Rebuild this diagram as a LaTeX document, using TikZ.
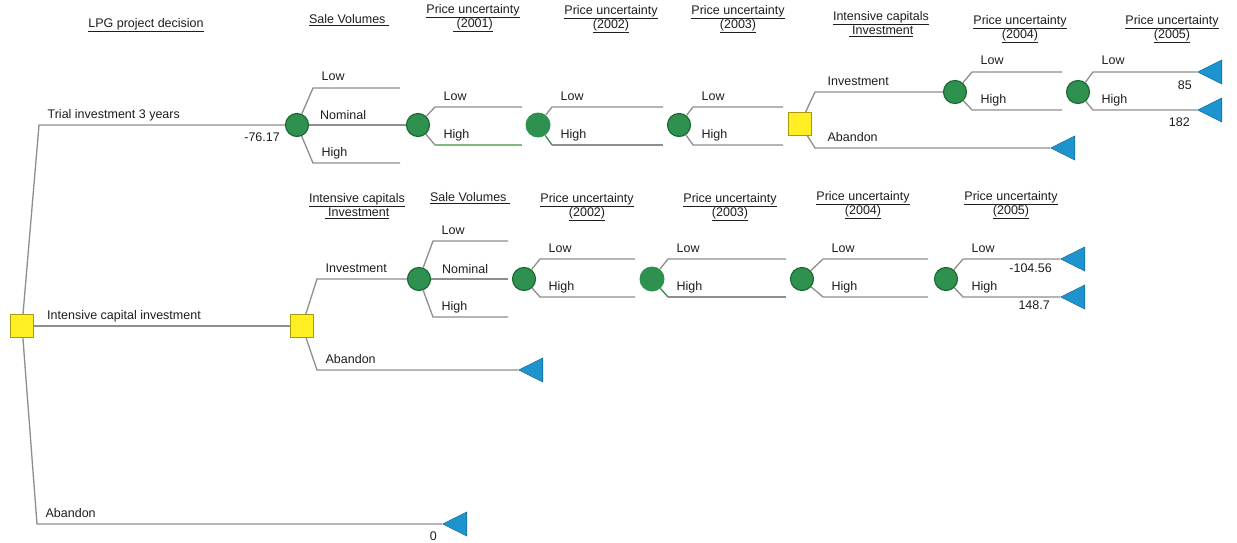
\documentclass[tikz,border=0pt]{standalone}
\usepackage{fontspec}
\setmainfont{Liberation Sans}
\usetikzlibrary{shapes.geometric}
\definecolor{chgreen}{HTML}{2E9150}
\definecolor{chedge}{HTML}{1E6A36}
\definecolor{hlgreen}{HTML}{7DBA7D}
\definecolor{dcyellow}{HTML}{FFEE22}
\definecolor{dcedge}{HTML}{A89A10}
\definecolor{endblue}{HTML}{1E94CF}
\definecolor{endedge}{HTML}{166F9E}
\definecolor{brgray}{HTML}{8E8E8E}
\definecolor{txtc}{HTML}{1E1E1E}
\newcommand{\treefont}{\fontsize{12.5}{14}\selectfont}
\tikzset{
  chance/.style={circle, fill=chgreen, draw=chedge, line width=1.2pt, minimum size=23pt, inner sep=0pt},
  flatchance/.style={circle, fill=chgreen, minimum size=25pt, inner sep=0pt},
  decision/.style={rectangle, fill=dcyellow, draw=dcedge, line width=0.8pt, minimum size=23pt, inner sep=0pt},
  payoff/.style={isosceles triangle, isosceles triangle stretches, shape border rotate=180,
    fill=endblue, draw=endedge, line width=0.6pt, minimum width=24pt, minimum height=24pt,
    inner sep=0pt, anchor=apex},
  branch/.style={draw=brgray, line width=1.3pt},
  lbl/.style={font=\treefont, text=txtc, anchor=base west, inner sep=0pt, xshift=8pt, yshift=7pt},
  val/.style={font=\treefont, text=txtc, anchor=base east, inner sep=0pt},
  hdr/.style={font=\treefont, text=txtc, align=center, inner sep=0pt}
}
\begin{document}
\begin{tikzpicture}[x=1pt,y=-1pt]
  \fill[white] (0,0) rectangle (1237,543);
  \useasboundingbox (0,0) rectangle (1237,543);

  % column headings
  \node[hdr] (hLPG) at (146,25) {\underline{LPG project decision}};
  \node[hdr] (hSV) at (349,20) {\underline{Sale Volumes\ }};
  \node[hdr] (hP1) at (473,18) {\underline{Price uncertainty}\\\underline{\ (2001)}};
  \node[hdr] (hP2) at (611,19) {\underline{Price uncertainty}\\\underline{(2002)}};
  \node[hdr] (hP3) at (738,19) {\underline{Price uncertainty}\\\underline{(2003)}};
  \node[hdr] (hIC) at (881,24) {\underline{Intensive capitals}\\\underline{\ Investment}};
  \node[hdr] (hP4) at (1020,29) {\underline{Price uncertainty}\\\underline{(2004)}};
  \node[hdr] (hP5) at (1172,29) {\underline{Price uncertainty}\\\underline{(2005)}};
  \node[hdr] (gIC) at (357,206) {\underline{Intensive capitals}\\\underline{\ Investment}};
  \node[hdr] (gSV) at (470,198) {\underline{Sale Volumes\ }};
  \node[hdr] (gP2) at (587,207) {\underline{Price uncertainty}\\\underline{(2002)}};
  \node[hdr] (gP3) at (730,207) {\underline{Price uncertainty}\\\underline{(2003)}};
  \node[hdr] (gP4) at (863,205) {\underline{Price uncertainty}\\\underline{(2004)}};
  \node[hdr] (gP5) at (1011,205) {\underline{Price uncertainty}\\\underline{(2005)}};

  % nodes
  \node[decision] (root) at (22,326) {};
  \node[chance] (c1) at (297,125) {};
  \node[chance] (c2) at (418,125) {};
  \node[flatchance] (c3) at (538,125) {};
  \node[chance] (c4) at (679,125) {};
  \node[decision] (d1) at (800,124) {};
  \node[chance] (c5) at (955,92) {};
  \node[chance] (c6) at (1078,92) {};
  \node[payoff] (t1) at (1197,72) {};
  \node[payoff] (t2) at (1197,110) {};
  \node[payoff] (t3) at (1050,148) {};
  \node[decision] (d2) at (302,326) {};
  \node[chance] (c7) at (419,279) {};
  \node[chance] (c8) at (524,279) {};
  \node[flatchance] (c9) at (652,279) {};
  \node[chance] (c10) at (802,279) {};
  \node[chance] (c11) at (946,279) {};
  \node[payoff] (t4) at (1060,259) {};
  \node[payoff] (t5) at (1060,297) {};
  \node[payoff] (t6) at (518,370) {};
  \node[payoff] (t7) at (442,524) {};

  % open branch ends
  \coordinate (e1) at (400,88);
  \coordinate (e2) at (400,163);
  \coordinate (e3) at (522,107);
  \coordinate (e4) at (522,145);
  \coordinate (e5) at (663,107);
  \coordinate (e6) at (663,145);
  \coordinate (e7) at (783,107);
  \coordinate (e8) at (783,145);
  \coordinate (e9) at (1062,72);
  \coordinate (e10) at (1062,110);
  \coordinate (e11) at (508,279);
  \coordinate (e12) at (508,241);
  \coordinate (e13) at (508,317);
  \coordinate (e14) at (635,259);
  \coordinate (e15) at (635,297);
  \coordinate (e16) at (786,259);
  \coordinate (e17) at (786,297);
  \coordinate (e18) at (928,259);
  \coordinate (e19) at (928,297);

  % first decision
  \draw[branch] (root) -- (39,125) node[lbl] {Trial investment 3 years} -- (c1);
  \draw[branch] (root) -- (d2);
  \node[lbl] at (39,326) {Intensive capital investment};
  \draw[branch] (root) -- (37,524) node[lbl] {Abandon} -- (t7.apex);

  % trial investment
  \draw[branch] (c1) -- (313,88) node[lbl] {Low} -- (e1);
  \draw[branch] (c1) -- (c2);
  \node[lbl] at (312,126) {Nominal};
  \draw[branch] (c1) -- (313,163) node[lbl] {High} -- (e2);
  \draw[branch] (c2) -- (435,107) node[lbl] {Low} -- (e3);
  \draw[branch] (c2) -- (435,145) coordinate (k2) node[lbl] {High};
  \draw[branch, draw=hlgreen] (k2) -- (e4);
  \draw[branch] (c3) -- (552,107) node[lbl] {Low} -- (e5);
  \draw[branch, draw=chgreen] (c3) -- (552,145) coordinate (k3) node[lbl] {High};
  \draw[branch] (k3) -- (e6);
  \draw[branch] (c4) -- (693,107) node[lbl] {Low} -- (e7);
  \draw[branch] (c4) -- (693,145) node[lbl] {High} -- (e8);
  \draw[branch] (d1) -- (815,92) node[lbl, xshift=4pt] {Investment} -- (c5);
  \draw[branch] (d1) -- (815,148) node[lbl, xshift=4pt] {Abandon} -- (t3.apex);
  \draw[branch] (c5) -- (972,72) node[lbl] {Low} -- (e9);
  \draw[branch] (c5) -- (972,110) node[lbl] {High} -- (e10);
  \draw[branch] (c6) -- (1093,72) node[lbl] {Low} -- (t1.apex);
  \draw[branch] (c6) -- (1093,110) node[lbl] {High} -- (t2.apex);

  % intensive capital investment
  \draw[branch] (d2) -- (317,279) node[lbl] {Investment} -- (c7);
  \draw[branch] (d2) -- (317,370) node[lbl] {Abandon} -- (t6.apex);
  \draw[branch] (c7) -- (433,241) node[lbl] {Low} -- (e12);
  \draw[branch] (c7) -- (e11);
  \node[lbl] at (434,280) {Nominal};
  \draw[branch] (c7) -- (433,317) node[lbl] {High} -- (e13);
  \draw[branch] (c8) -- (540,259) node[lbl] {Low} -- (e14);
  \draw[branch] (c8) -- (540,297) node[lbl] {High} -- (e15);
  \draw[branch] (c9) -- (668,259) node[lbl] {Low} -- (e16);
  \draw[branch, draw=chgreen] (c9) -- (668,297) coordinate (k9) node[lbl] {High};
  \draw[branch] (k9) -- (e17);
  \draw[branch] (c10) -- (823,259) node[lbl] {Low} -- (e18);
  \draw[branch] (c10) -- (823,297) node[lbl] {High} -- (e19);
  \draw[branch] (c11) -- (963,259) node[lbl] {Low} -- (t4.apex);
  \draw[branch] (c11) -- (963,297) node[lbl] {High} -- (t5.apex);

  % values
  \node[val] (v1) at (280,141) {-76.17};
  \node[val] (v2) at (1192,89) {85};
  \node[val] (v3) at (1190,126) {182};
  \node[val] (v4) at (1052,272) {-104.56};
  \node[val] (v5) at (1050,309) {148.7};
  \node[val] (v6) at (437,540) {0};
\end{tikzpicture}
\end{document}
